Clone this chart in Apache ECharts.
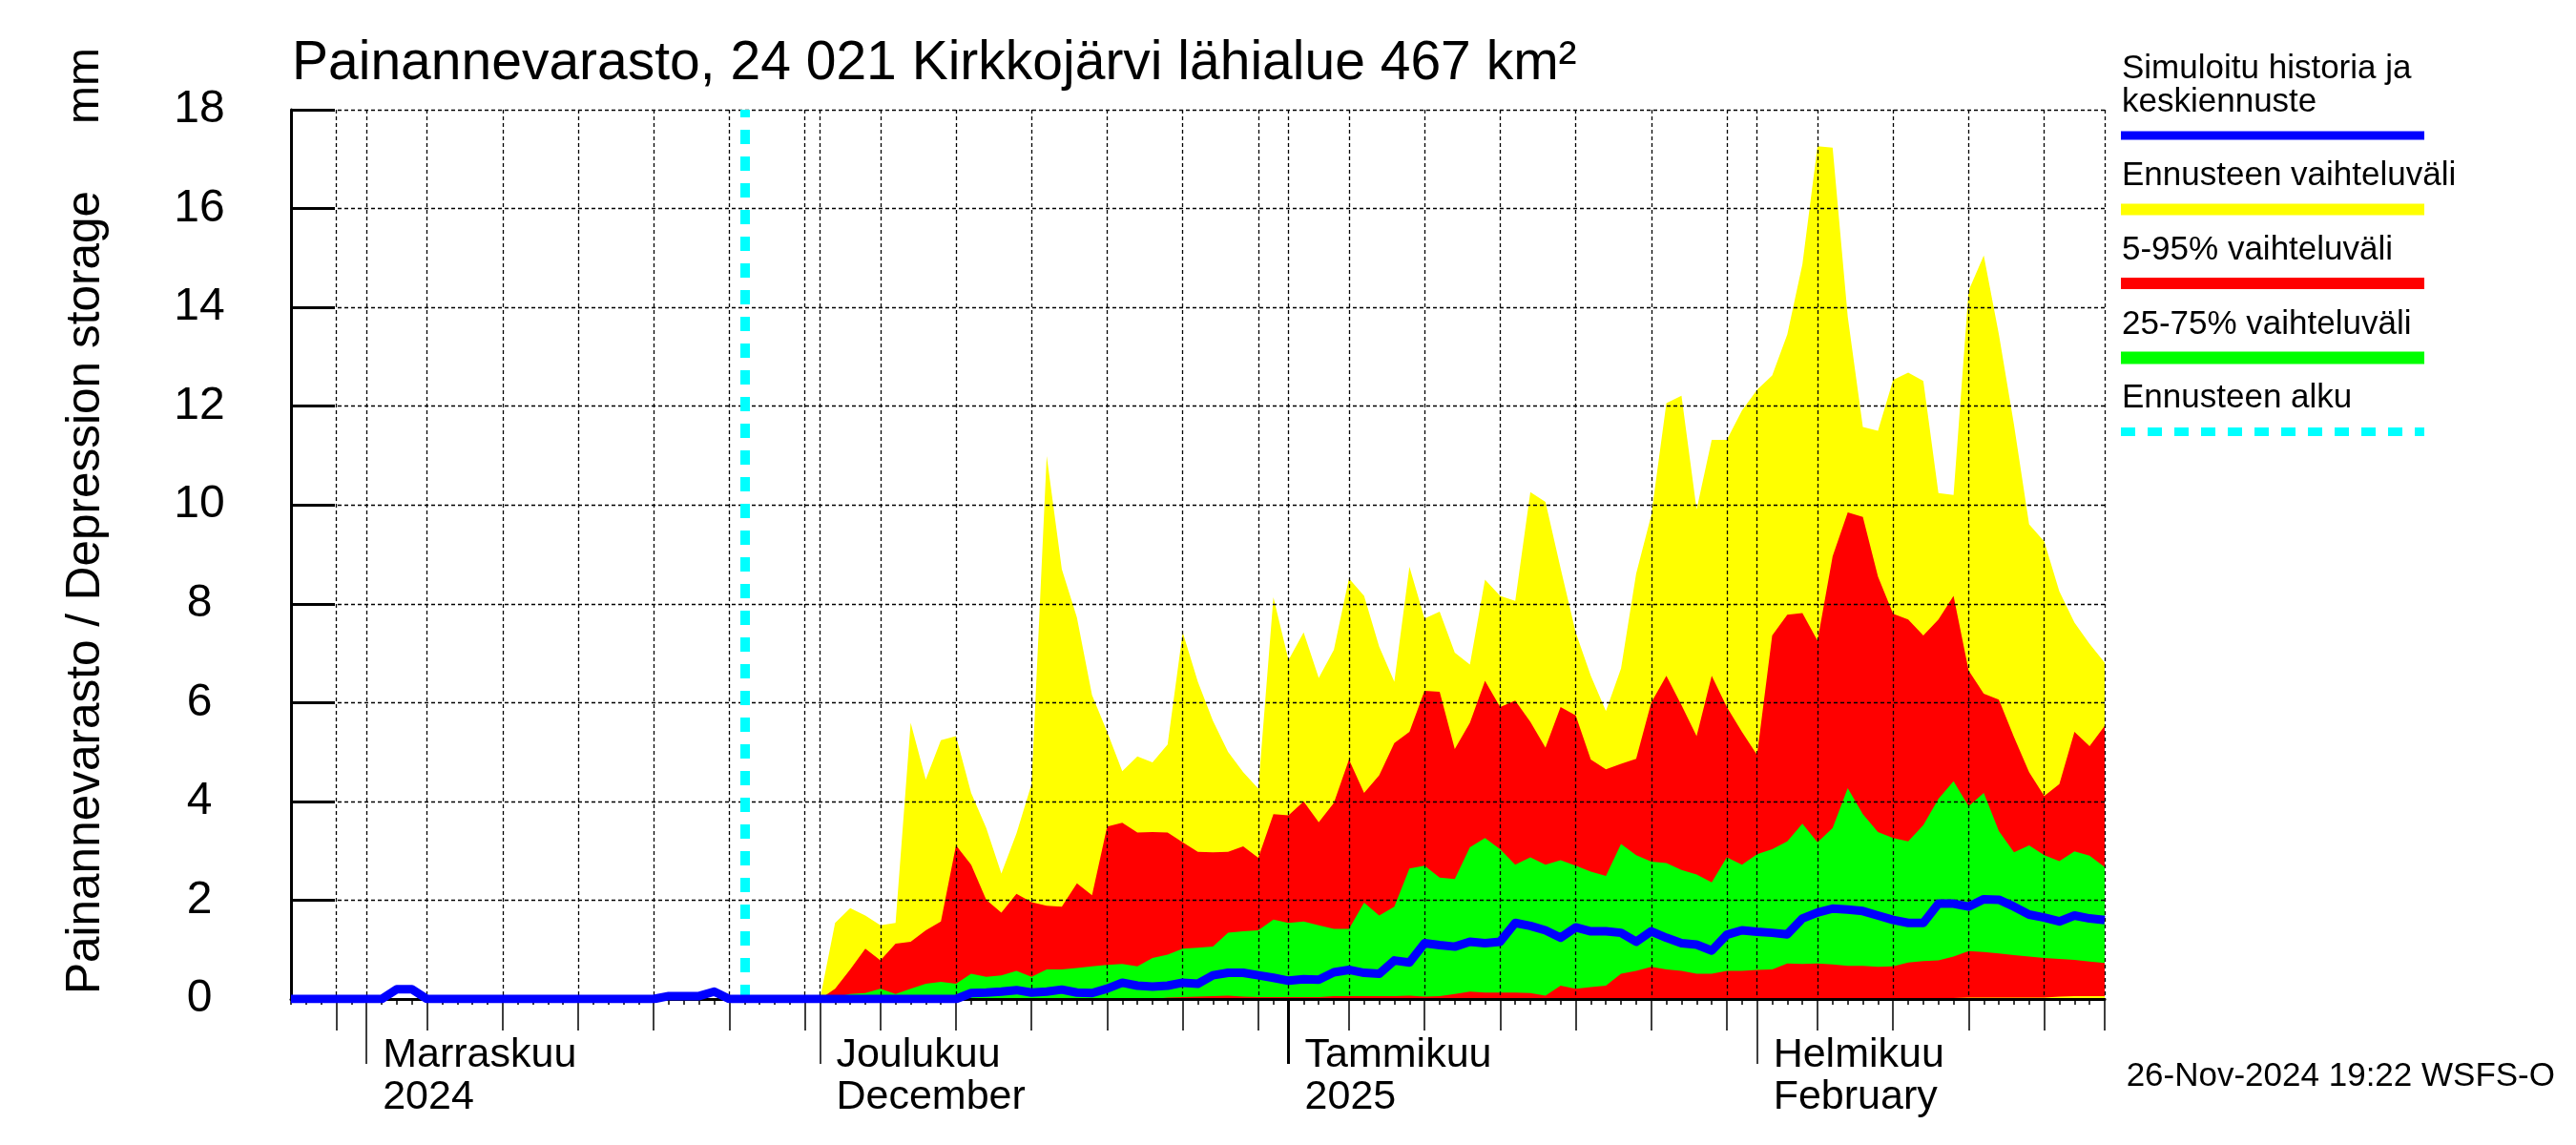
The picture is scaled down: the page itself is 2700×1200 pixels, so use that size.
<!DOCTYPE html>
<html>
<head>
<meta charset="utf-8">
<script src="https://cdn.jsdelivr.net/npm/echarts@6/dist/echarts.min.js"></script>
<style>
html,body{margin:0;padding:0;background:#ffffff;}
#chart{width:2700px;height:1200px;}
</style>
</head>
<body>
<div id="chart"></div>
<script>
// ---------------- DATA ----------------
const startDate = '2024-10-27';      // left edge of the time axis (day 0)
const endDate = '2025-02-24';        // right edge of the time axis
const forecastStart = '2024-11-26';  // "Ennusteen alku"

const yTicks = [0, 2, 4, 6, 8, 10, 12, 14, 16, 18];
const gridDaysOfMonth = [1, 5, 10, 15, 20, 25, 30];
const monthNamesFi = ['Marraskuu', 'Joulukuu', 'Tammikuu', 'Helmikuu'];
const monthNamesSecond = ['2024', 'December', '2025', 'February'];

// simulated history, one value per day from startDate (27.10. .. 25.11.)
const history = [0, 0, 0, 0, 0, 0, 0, 0.2, 0.2, 0,
  0, 0, 0, 0, 0, 0, 0, 0, 0, 0,
  0, 0, 0, 0, 0, 0.06, 0.06, 0.06, 0.15, 0];

// forecast, one value per day from forecastStart (26.11. .. 24.2.)
const median = [0, 0, 0, 0, 0, 0, 0, 0, 0, 0, 0, 0, 0, 0, 0,
  0.12, 0.13, 0.15, 0.18, 0.13, 0.15, 0.19, 0.13, 0.12, 0.21,
  0.33, 0.27, 0.25, 0.27, 0.33, 0.31, 0.48, 0.53, 0.53, 0.48,
  0.43, 0.37, 0.40, 0.39, 0.54, 0.59, 0.53, 0.51, 0.78, 0.74,
  1.13, 1.09, 1.06, 1.16, 1.13, 1.16, 1.54, 1.48, 1.39, 1.24,
  1.45, 1.37, 1.37, 1.34, 1.16, 1.37, 1.24, 1.13, 1.10, 0.98,
  1.30, 1.39, 1.36, 1.34, 1.31, 1.63, 1.75, 1.83, 1.81, 1.78,
  1.69, 1.60, 1.54, 1.54, 1.93, 1.93, 1.87, 2.02, 2.01, 1.87,
  1.71, 1.65, 1.57, 1.69, 1.63, 1.60];

const bandMax = [0, 0, 0, 0, 0, 0,
  1.54, 1.84, 1.69, 1.49, 1.54, 5.59, 4.44, 5.24, 5.32, 4.17,
  3.46, 2.54, 3.35, 4.35, 10.99, 8.70, 7.72, 6.15, 5.41, 4.61,
  4.91, 4.79, 5.15, 7.42, 6.42, 5.63, 5.00, 4.59, 4.26, 8.13,
  6.86, 7.42, 6.50, 7.07, 8.51, 8.16, 7.13, 6.42, 8.75, 7.70,
  7.84, 7.01, 6.77, 8.49, 8.16, 8.06, 10.26, 10.06, 8.72, 7.42,
  6.54, 5.83, 6.69, 8.61, 9.79, 12.06, 12.21, 9.91, 11.32, 11.32,
  11.91, 12.33, 12.62, 13.45, 14.87, 17.26, 17.23, 13.81, 11.58, 11.50,
  12.53, 12.68, 12.51, 10.24, 10.20, 14.34, 15.05, 13.45, 11.62, 9.61,
  9.26, 8.25, 7.62, 7.19, 6.81];

const band95 = [0, 0, 0, 0, 0, 0,
  0.21, 0.60, 1.02, 0.78, 1.12, 1.16, 1.39, 1.57, 3.11, 2.72,
  2.01, 1.75, 2.13, 1.96, 1.89, 1.87, 2.34, 2.10, 3.49, 3.57,
  3.37, 3.38, 3.37, 3.17, 2.98, 2.97, 2.98, 3.09, 2.86, 3.74,
  3.72, 4.00, 3.58, 3.97, 4.85, 4.17, 4.53, 5.18, 5.41, 6.24,
  6.22, 5.06, 5.59, 6.44, 5.91, 6.04, 5.61, 5.09, 5.91, 5.74,
  4.85, 4.65, 4.76, 4.86, 6.00, 6.54, 5.95, 5.32, 6.54, 5.91,
  5.41, 4.94, 7.36, 7.78, 7.81, 7.25, 8.96, 9.85, 9.76, 8.55,
  7.80, 7.68, 7.36, 7.68, 8.16, 6.65, 6.18, 6.06, 5.30, 4.59,
  4.11, 4.35, 5.41, 5.12, 5.53];

const band75 = [0, 0, 0, 0, 0, 0,
  0.04, 0.10, 0.12, 0.21, 0.10, 0.21, 0.31, 0.35, 0.31, 0.51,
  0.45, 0.48, 0.57, 0.45, 0.60, 0.60, 0.63, 0.66, 0.69, 0.71,
  0.66, 0.83, 0.90, 1.02, 1.04, 1.06, 1.34, 1.37, 1.39, 1.61,
  1.54, 1.57, 1.49, 1.42, 1.42, 1.95, 1.69, 1.87, 2.64, 2.70,
  2.46, 2.43, 3.07, 3.26, 3.03, 2.72, 2.87, 2.72, 2.81, 2.70,
  2.58, 2.49, 3.14, 2.91, 2.78, 2.75, 2.61, 2.52, 2.36, 2.87,
  2.72, 2.93, 3.03, 3.19, 3.55, 3.17, 3.46, 4.27, 3.74, 3.38,
  3.26, 3.19, 3.52, 4.05, 4.41, 3.90, 4.17, 3.40, 2.97, 3.11,
  2.91, 2.79, 2.99, 2.90, 2.67];

const band25 = [0, 0, 0, 0, 0, 0,
  0, 0, 0, 0, 0, 0, 0, 0, 0, 0,
  0, 0, 0, 0, 0, 0, 0, 0, 0, 0,
  0, 0, 0.03, 0.04, 0.05, 0.06, 0.07, 0.05, 0.04, 0.04,
  0.04, 0.04, 0.04, 0.06, 0.06, 0.06, 0.06, 0.06, 0.07, 0.05,
  0.06, 0.10, 0.15, 0.13, 0.13, 0.13, 0.12, 0.07, 0.27, 0.21,
  0.24, 0.27, 0.51, 0.57, 0.65, 0.60, 0.57, 0.51, 0.51, 0.57,
  0.57, 0.59, 0.60, 0.72, 0.71, 0.72, 0.70, 0.67, 0.67, 0.65,
  0.66, 0.74, 0.77, 0.78, 0.86, 0.97, 0.95, 0.92, 0.89, 0.86,
  0.83, 0.81, 0.79, 0.76, 0.73];

const band5 = [0, 0, 0, 0, 0, 0, 0, 0, 0, 0,
  0, 0, 0, 0, 0, 0, 0, 0, 0, 0,
  0, 0, 0, 0, 0, 0, 0, 0, 0, 0,
  0, 0, 0, 0, 0, 0, 0, 0, 0, 0,
  0, 0, 0, 0, 0, 0, 0, 0, 0, 0,
  0, 0, 0, 0, 0, 0, 0, 0, 0, 0,
  0, 0, 0, 0, 0, 0, 0, 0, 0, 0,
  0, 0, 0, 0, 0, 0, 0, 0, 0, 0,
  0.02, 0.03, 0.03, 0.03, 0.03, 0.03,
  0.03, 0.05, 0.06, 0.06, 0.06];

// ---------------- DERIVED AXIS INFO ----------------
const DAY = 86400000;
const t0 = Date.parse(startDate + 'T00:00:00Z');
const nDays = Math.round((Date.parse(endDate + 'T00:00:00Z') - t0) / DAY);
const fcIdx = Math.round((Date.parse(forecastStart + 'T00:00:00Z') - t0) / DAY);

const gridDays = [], monthDays = [], yearDays = [];
for (let d = 0; d <= nDays; d++) {
  const dt = new Date(t0 + d * DAY);
  const dom = dt.getUTCDate();
  if (gridDaysOfMonth.indexOf(dom) >= 0) gridDays.push(d);
  if (dom === 1) monthDays.push(d);
  if (dom === 1 && dt.getUTCMonth() === 0) yearDays.push(d);
}
if (gridDays.indexOf(nDays) < 0) gridDays.push(nDays);

const lineData = history.concat(median).map((v, i) => [i, v]);
const toPairs = arr => arr.map((v, i) => [fcIdx + i, v]);

// ---------------- CHART ----------------
const FONT = '"Liberation Sans", Arial, Helvetica, sans-serif';
const chart = echarts.init(document.getElementById('chart'), null, {renderer: 'canvas', width: 2700, height: 1200});

const xBase = {type: 'value', min: 0, max: nDays, gridIndex: 0, position: 'bottom', z: 10};
const dashed = {type: [4, 3], color: '#000000', width: 1.3};

function band(name, arr, color) {
  return {
    type: 'line', name: name, data: toPairs(arr), xAxisIndex: 0, yAxisIndex: 0,
    symbol: 'none', showSymbol: false, silent: true, z: 2,
    lineStyle: {width: 0, opacity: 0},
    areaStyle: {color: color, opacity: 1}
  };
}

const legendX = 2224, legendLineX1 = 2223, legendLineX2 = 2541;
function legendText(text, y) {
  return {type: 'text', x: legendX, y: y, silent: true,
    style: {text: text, fontSize: 35, fontFamily: FONT, fill: '#000',
      align: 'left', verticalAlign: 'middle', textAlign: 'left', textVerticalAlign: 'middle'}};
}
function legendLine(y, color, width, dash) {
  return {type: 'line', silent: true,
    shape: {x1: legendLineX1, y1: y, x2: legendLineX2, y2: y},
    style: {stroke: color, lineWidth: width, lineDash: dash || null}};
}

const option = {
  animation: false,
  backgroundColor: '#ffffff',
  grid: {left: 305, right: 494, top: 115, bottom: 153, containLabel: false},
  xAxis: [
    Object.assign({}, xBase, {
      interval: 1,
      axisLine: {show: true, onZero: false, lineStyle: {color: '#000', width: 3}},
      axisTick: {show: true, length: 6, lineStyle: {color: '#000', width: 1.5}},
      axisLabel: {show: false},
      splitLine: {show: false}
    }),
    Object.assign({}, xBase, {
      axisLine: {show: false},
      axisTick: {show: true, customValues: gridDays, length: 33, lineStyle: {color: '#000', width: 1.5}},
      axisLabel: {show: false},
      splitLine: {show: true, lineStyle: dashed}
    }),
    Object.assign({}, xBase, {
      axisLine: {show: false},
      axisTick: {show: true, customValues: monthDays, length: 68, lineStyle: {color: '#000', width: 1.5}},
      axisLabel: {
        show: true, customValues: monthDays, margin: 37,
        align: 'left', verticalAlign: 'top', padding: [0, 0, 0, 17],
        fontSize: 43, lineHeight: 44, color: '#000', fontFamily: FONT,
        formatter: function (v) {
          const k = monthDays.indexOf(Math.round(v));
          return k >= 0 ? monthNamesFi[k] + '\n' + monthNamesSecond[k] : '';
        }
      },
      splitLine: {show: false}
    }),
    Object.assign({}, xBase, {
      axisLine: {show: false},
      axisTick: {show: true, customValues: yearDays, length: 68, lineStyle: {color: '#000', width: 3}},
      axisLabel: {show: false},
      splitLine: {show: false}
    })
  ],
  yAxis: {
    type: 'value', min: yTicks[0], max: yTicks[yTicks.length - 1], interval: yTicks[1] - yTicks[0], z: 10,
    axisLine: {show: true, lineStyle: {color: '#000', width: 3}},
    axisTick: {show: true, inside: true, length: 46, lineStyle: {color: '#000', width: 3}},
    axisLabel: {show: true, fontSize: 48, color: '#000', fontFamily: FONT, align: 'center', margin: 96},
    splitLine: {show: true, lineStyle: dashed}
  },
  series: [
    band('Ennusteen vaihteluväli', bandMax, '#ffff00'),
    band('5-95% vaihteluväli', band95, '#ff0000'),
    band('25-75% vaihteluväli', band75, '#00ff00'),
    band('25%', band25, '#ff0000'),
    band('5%', band5, '#ffff00'),
    {
      type: 'line', name: 'Simuloitu historia ja keskiennuste', data: lineData,
      xAxisIndex: 0, yAxisIndex: 0, symbol: 'none', showSymbol: false, silent: true, z: 20,
      lineStyle: {color: '#0000ff', width: 9, join: 'round'},
      markLine: {
        silent: true, symbol: ['none', 'none'], z: 15, animation: false,
        label: {show: false},
        lineStyle: {color: '#00ffff', width: 10, type: [15, 13]},
        data: [{xAxis: fcIdx}]
      }
    }
  ],
  graphic: [
    {type: 'text', x: 306, y: 67, silent: true,
      style: {text: 'Painannevarasto, 24 021 Kirkkojärvi lähialue 467 km²', fontSize: 57, fontFamily: FONT, fill: '#000',
        align: 'left', verticalAlign: 'middle', textAlign: 'left', textVerticalAlign: 'middle'}},
    {type: 'text', x: 90, y: 1042, rotation: Math.PI / 2, silent: true,
      style: {text: 'Painannevarasto / Depression storage', fontSize: 49.5, fontFamily: FONT, fill: '#000',
        align: 'left', verticalAlign: 'middle', textAlign: 'left', textVerticalAlign: 'middle'}},
    {type: 'text', x: 90, y: 130, rotation: Math.PI / 2, silent: true,
      style: {text: 'mm', fontSize: 48, fontFamily: FONT, fill: '#000',
        align: 'left', verticalAlign: 'middle', textAlign: 'left', textVerticalAlign: 'middle'}},
    legendText('Simuloitu historia ja', 72),
    legendText('keskiennuste', 107),
    legendLine(142, '#0000ff', 9),
    legendText('Ennusteen vaihteluväli', 184),
    legendLine(219.5, '#ffff00', 12),
    legendText('5-95% vaihteluväli', 262),
    legendLine(297, '#ff0000', 12),
    legendText('25-75% vaihteluväli', 340),
    legendLine(375, '#00ff00', 13),
    legendText('Ennusteen alku', 417),
    legendLine(452.5, '#00ffff', 9, [15, 13]),
    {type: 'text', x: 2678, y: 1128, silent: true,
      style: {text: '26-Nov-2024 19:22 WSFS-O', fontSize: 35, fontFamily: FONT, fill: '#000',
        align: 'right', verticalAlign: 'middle', textAlign: 'right', textVerticalAlign: 'middle'}}
  ]
};
chart.setOption(option);
</script>
</body>
</html>
